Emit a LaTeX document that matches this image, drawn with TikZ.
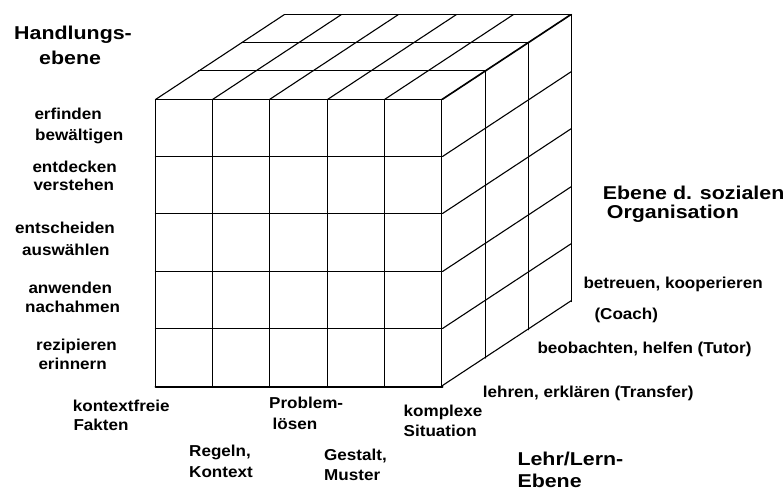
\documentclass[tikz,border=0pt]{standalone}
\usepackage{fontspec}
\setmainfont{Liberation Sans}
\newfontfamily\labfont{Liberation Sans Bold}[FakeStretch=1.08]
\newfontfamily\titlefont{Liberation Sans Bold}[FakeStretch=1.15]
\tikzset{
  cube/.style={line width=1.1pt, black},
  lab/.style={anchor=base west, inner sep=0pt, font=\labfont\fontsize{15.8}{18}\selectfont},
  ttl/.style={anchor=base west, inner sep=0pt, font=\titlefont\fontsize{18.6}{22}\selectfont}
}
\begin{document}
\begin{tikzpicture}[x=1pt,y=-1pt,line join=round,line cap=round]
\useasboundingbox (0,0) rectangle (784,490);
\def\xa{155}\def\xb{442.5}\def\ya{99}\def\yb{386.5}\def\cw{57.4}\def\dx{43}\def\dy{-28.333}
% front face
\foreach \i in {0,...,5} \draw[cube] ({floor(\xa+\i*\cw)+0.5},\ya+0.5) -- ({floor(\xa+\i*\cw)+0.5},\yb);
\foreach \j in {0,...,4} \draw[cube] (\xa+0.5,{floor(\ya+\j*\cw)+0.5}) -- (\xb,{floor(\ya+\j*\cw)+0.5});
\draw[cube, line width=2pt] (\xa+0.5,\yb) -- (\xb,\yb);
% top face
\foreach \i in {0,...,5} \draw[cube] ({floor(\xa+\i*\cw)+0.5},\ya+0.5) -- ++({3*\dx},{3*\dy});
\foreach \k in {1,2,3} \draw[cube] ({\xa+0.5+\k*\dx},{floor(\ya+\k*\dy)+0.5}) -- ({\xb+\k*\dx},{floor(\ya+\k*\dy)+0.5});
% side face
\foreach \k in {1,2,3} \draw[cube] ({\xb+\k*\dx},{\ya+0.5+\k*\dy}) -- ({\xb+\k*\dx},{\yb+\k*\dy});
\foreach \j in {0,...,5} \draw[cube] (\xb,{floor(\ya+\j*\cw)+0.5}) -- ++({3*\dx},{3*\dy});
% titles
\node[ttl] (t1) at (14,39) {Handlungs-};
\node[ttl] (t2) at (39,64) {ebene};
\node[ttl] (t3) at (602.7,199) {Ebene d. sozialen};
\node[ttl] (t4) at (606.7,218.3) {Organisation};
\node[ttl] (t5) at (517.3,465) {Lehr/Lern-};
\node[ttl] (t6) at (517.3,487.7) {Ebene};
% left labels
\node[lab] (l1) at (34.3,119.3) {erfinden};
\node[lab] (l2) at (35,140.7) {bewältigen};
\node[lab] (l3) at (32.3,172.7) {entdecken};
\node[lab] (l4) at (33.3,190) {verstehen};
\node[lab] (l5) at (15,233) {entscheiden};
\node[lab] (l6) at (22,255.7) {auswählen};
\node[lab] (l7) at (28.3,293.3) {anwenden};
\node[lab] (l8) at (25,312.3) {nachahmen};
\node[lab] (l9) at (36,350.7) {rezipieren};
\node[lab] (l10) at (38.3,369.3) {erinnern};
% bottom labels
\node[lab] (b1) at (72.7,411.7) {kontextfreie};
\node[lab] (b2) at (73.3,430.7) {Fakten};
\node[lab] (b3) at (189,456.7) {Regeln,};
\node[lab] (b4) at (189,477.3) {Kontext};
\node[lab] (b5) at (269,408.3) {Problem-};
\node[lab] (b6) at (272.5,429) {lösen};
\node[lab] (b7) at (324,460.7) {Gestalt,};
\node[lab] (b8) at (324,480.7) {Muster};
\node[lab] (b9) at (403.5,416.5) {komplexe};
\node[lab] (b10) at (403.5,436.7) {Situation};
% right labels
\node[lab] (r1) at (583.3,288.3) {betreuen, kooperieren};
\node[lab] (r2) at (594.3,319) {(Coach)};
\node[lab] (r3) at (537.3,353.3) {beobachten, helfen (Tutor)};
\node[lab] (r4) at (482.7,397.3) {lehren, erklären (Transfer)};
\end{tikzpicture}
\end{document}
